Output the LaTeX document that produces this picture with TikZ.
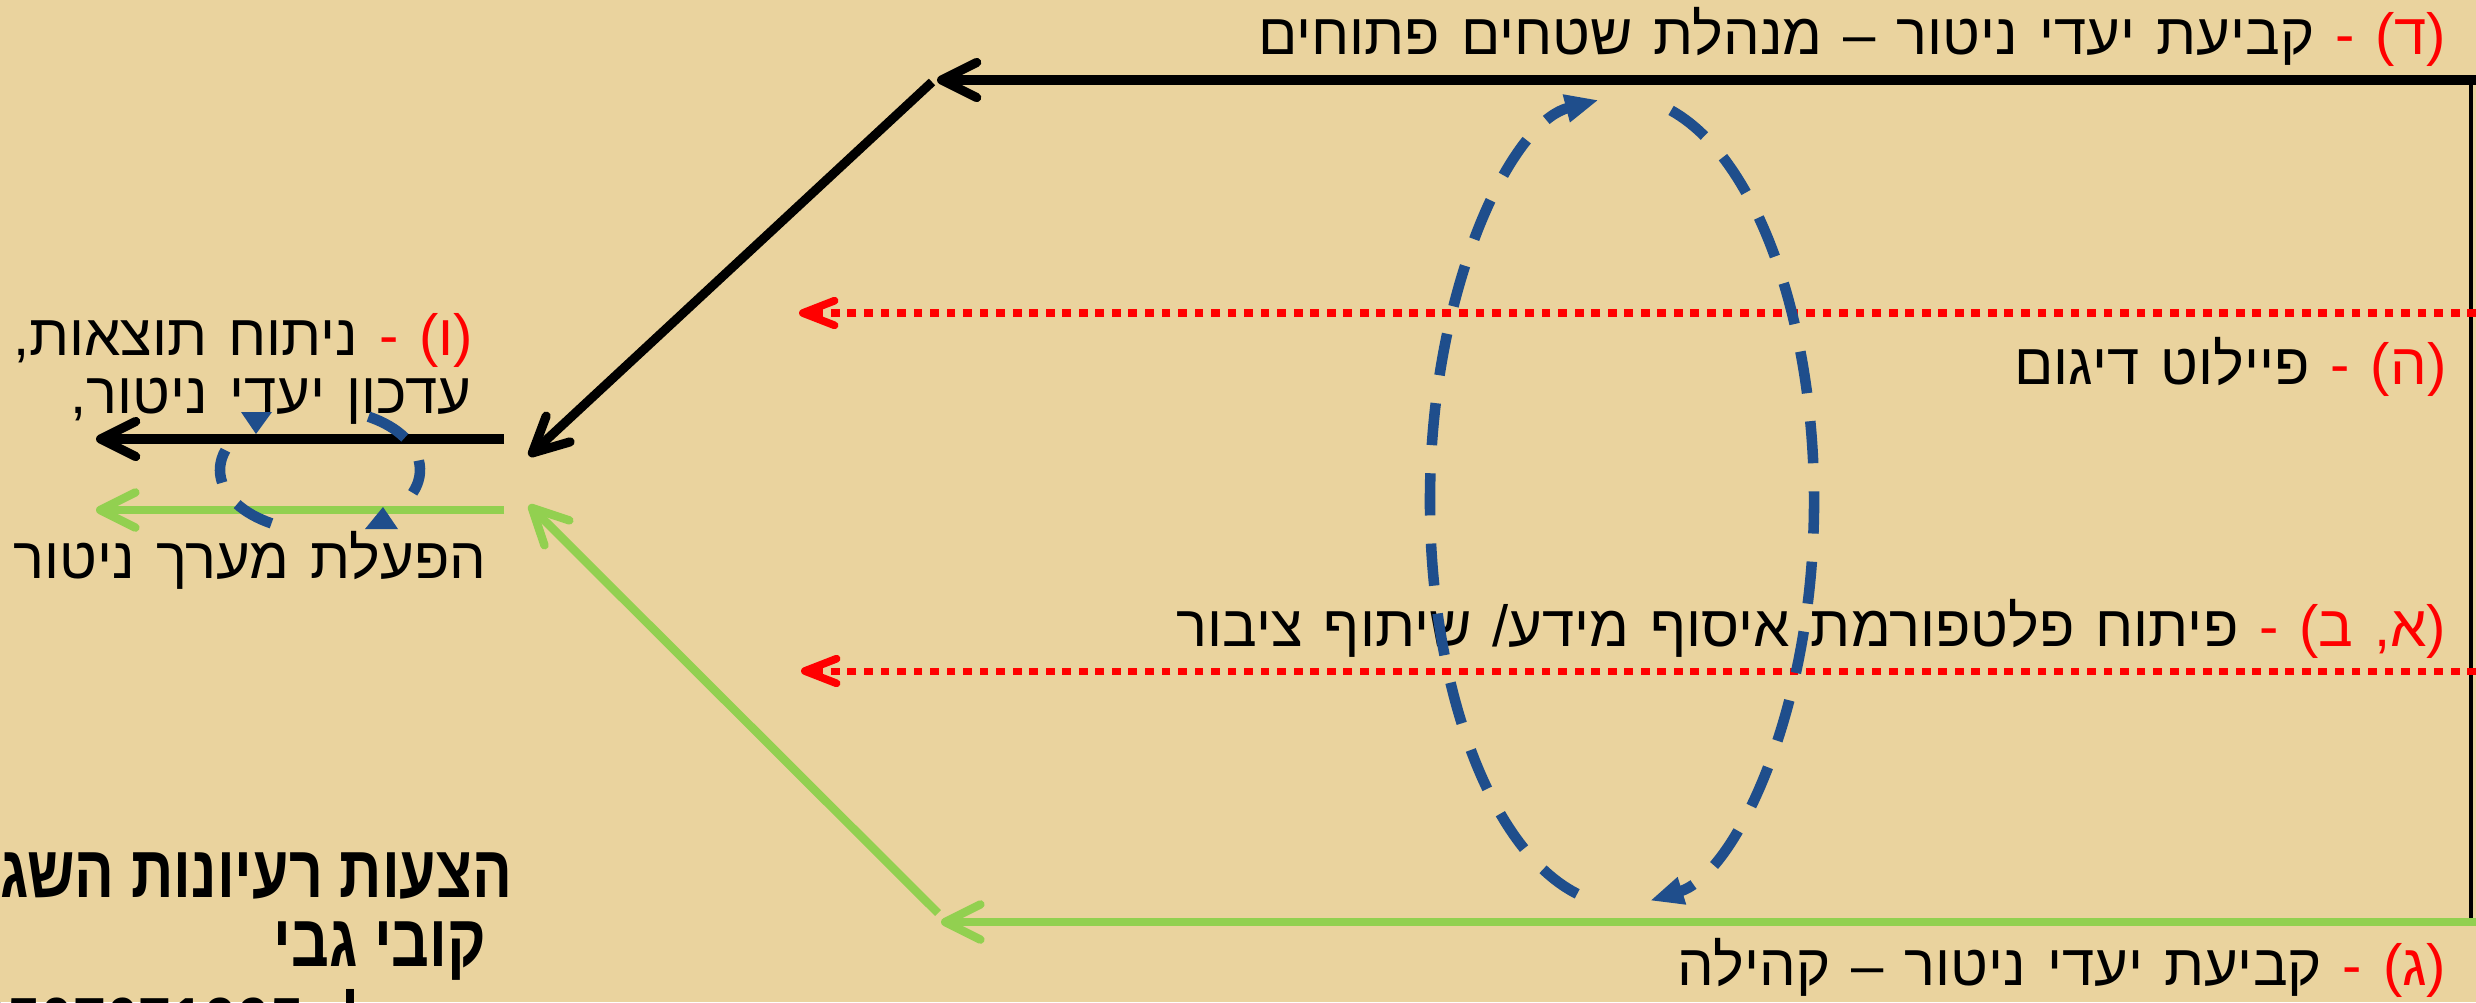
\documentclass[tikz,border=0pt]{standalone}
\usepackage{fontspec}
\usetikzlibrary{arrows.meta}
\newfontfamily\heb[Script=Hebrew, WordSpace=1.3]{Liberation Sans}
\newfontfamily\hebbold[Script=Hebrew, FakeStretch=0.8]{Liberation Sans Bold}
\TeXXeTstate=1
\definecolor{paper}{RGB}{234,211,158}
\definecolor{grn}{RGB}{146,208,80}
\definecolor{blu}{RGB}{31,78,140}
\newcommand\rtl[1]{\hbox{\beginR#1\endR}}
\newcommand\rtlc[2]{\hbox{\color{#1}\beginR#2\endR}}
\begin{document}
\begin{tikzpicture}[x=0.01cm,y=-0.01cm,
  txt/.style={font=\heb\fontsize{16.5}{20}\selectfont, inner sep=0pt, anchor=east},
  bld/.style={font=\hebbold\fontsize{21}{25}\selectfont, inner sep=0pt, anchor=base east},
  blk/.style={draw=black, line width=2.6pt},
  grl/.style={draw=grn, line width=2.4pt},
  rdl/.style={draw=red, line width=2pt, dash pattern=on 2.5pt off 2.2pt},
  bbarb/.style={-{Straight Barb[length=10pt,width=10pt,round,line width=2.6pt]}},
  gbarb/.style={-{Straight Barb[length=10pt,width=10pt,round,line width=2.4pt]}},
  rbarb/.style={-{Straight Barb[length=9pt,width=7pt,round,line width=2.2pt]}},
  bdash/.style={draw=blu, line width=3pt, dash pattern=on 12pt off 8pt},
  bseg/.style={draw=blu, line width=3pt},
  btri/.style={-{Triangle[length=9.5pt,width=7.5pt]}}
]
\fill[paper] (0,0) rectangle (2476,1002);
\useasboundingbox (0,0) rectangle (2476,1002);
\clip (0,0) rectangle (2476,1002);

% coordinates
\coordinate (tR) at (2476,80);
\coordinate (tL) at (937,80);
\coordinate (dTop) at (932,82);
\coordinate (dTip) at (529,456);
\coordinate (bR) at (504,439);
\coordinate (bL) at (96,439);
\coordinate (gR) at (504,510);
\coordinate (gL) at (96,510);
\coordinate (gdBot) at (938,913);
\coordinate (gdTip) at (529,505);
\coordinate (gbR) at (2476,922);
\coordinate (gbL) at (941,922);
\coordinate (rR1) at (2476,313);
\coordinate (rL1) at (799,313);
\coordinate (rR2) at (2476,671);
\coordinate (rL2) at (801,671);
\coordinate (vTop) at (2471,80);
\coordinate (vBot) at (2471,922);
\coordinate (bigC) at (1622,501);
\coordinate (smC) at (320,470);

% texts
\node[txt] (tD) at (2447,37) {\rtl{קביעת יעדי ניטור – מנהלת שטחים פתוחים}\ \rtlc{red}{(ד) -}};
\node[txt] (tH) at (2447,367) {\rtl{פיילוט דיגום}\ \rtlc{red}{(ה) -}};
\node[txt] (tAB) at (2447,629) {\rtl{פיתוח פלטפורמת איסוף מידע/ שיתוף ציבור}\ \rtlc{red}{(א, ב) -}};
\node[txt] (tG) at (2447,968) {\rtl{קביעת יעדי ניטור – קהילה}\ \rtlc{red}{(ג) -}};
\node[txt] (tV1) at (474,340) {\rtl{ניתוח תוצאות,}\ \rtlc{red}{(ו) -}};
\node[txt] (tV2) at (472,401) {\rtl{עדכון יעדי ניטור,}};
\node[txt] (tV3) at (487,560) {\rtl{הפעלת מערך ניטור}};
\node[bld] (tB1) at (513,897) {\rtl{הצעות רעיונות השגות}};
\node[bld] (tB2) at (487,966) {\rtl{קובי גבי}};
\node[bld] (tB3) at (420,1049) {\rtl{טל: 0507071995}};

% black lines
\draw[draw=black, line width=1pt] (vTop) -- (vBot);
\draw[blk, bbarb] (tR) -- (tL);
\draw[blk, bbarb] (dTop) -- (dTip);
\draw[blk, bbarb] (bR) -- (bL);
% green lines
\draw[grl, gbarb] (gbR) -- (gbL);
\draw[grl, gbarb] (gdBot) -- (gdTip);
\draw[grl, gbarb] (gR) -- (gL);
% red dotted
\draw[rdl, rbarb] (rR1) -- (rL1);
\draw[rdl, rbarb] (rR2) -- (rL2);

% big dashed loop
\draw[bdash, btri] (bigC) ++(103.5:192 and 404) arc[start angle=103.5, end angle=263, x radius=192, y radius=404];
\draw[bdash, btri] (bigC) ++(284.8:192 and 404) arc[start angle=284.8, end angle=441.6, x radius=192, y radius=404];

% small dashed loop
\draw[bseg] (smC) ++(199:100 and 61) arc[start angle=199, end angle=168, x radius=100, y radius=61];
\draw[bseg] (smC) ++(146:100 and 61) arc[start angle=146, end angle=119, x radius=100, y radius=61];
\draw[bseg] (smC) ++(299:100 and 61) arc[start angle=299, end angle=328, x radius=100, y radius=61];
\draw[bseg] (smC) ++(351:100 and 61) arc[start angle=351, end angle=382, x radius=100, y radius=61];
\fill[blu] (241,412) -- (272,412) -- (256,434) -- cycle;
\fill[blu] (365,529) -- (398,529) -- (383,507) -- cycle;
\end{tikzpicture}
\end{document}
